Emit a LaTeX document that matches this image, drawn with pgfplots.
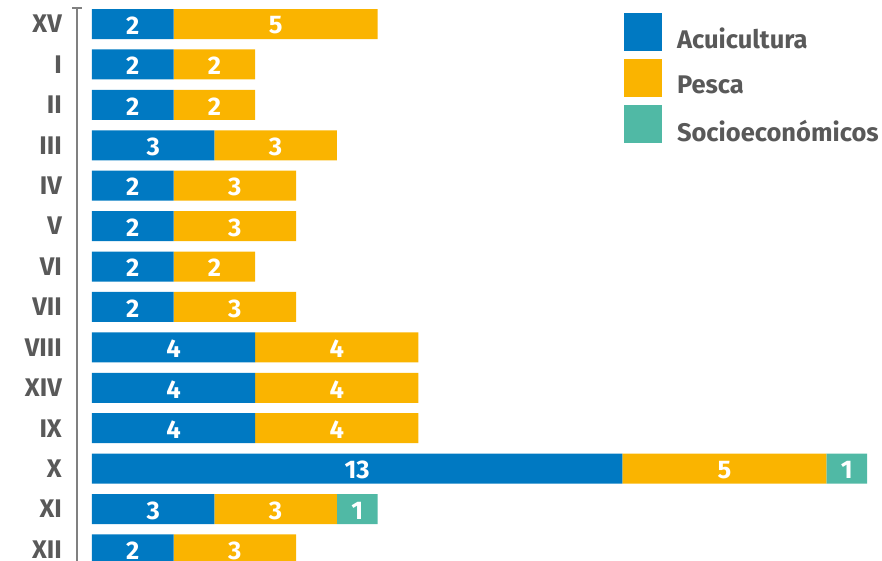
\documentclass[border=0pt]{standalone}
\usepackage{fontspec}
\setmainfont{Fira Sans}
\usepackage{pgfplots}
\pgfplotsset{compat=1.18}
\definecolor{cblue}{HTML}{0079C2}
\definecolor{corange}{HTML}{FAB400}
\definecolor{cteal}{HTML}{50B9A5}
\definecolor{ctext}{HTML}{595959}
\definecolor{caxis}{HTML}{808080}
\newcommand{\bigfont}{\fontsize{25.5}{28}\selectfont\bfseries}
\pgfplotsset{
  common/.style={
    at={(77pt,553pt)}, anchor=north west,
    scale only axis, width=805pt, height=553pt,
    xmin=-0.3676, xmax=19.363, ymin=-0.396, ymax=13.285,
    y dir=reverse,
  }
}
\begin{document}
\begin{tikzpicture}
\useasboundingbox (0,0) rectangle (882pt,561pt);
\begin{axis}[
  common, name=ax,
  xbar stacked, bar width=30pt,
  axis x line=none,
  axis y line*=left,
  axis line style={draw=caxis, line width=2pt},
  ytick={0,...,13},
  yticklabels={XV,I,II,III,IV,V,VI,VII,VIII,XIV,IX,X,XI,XII},
  major tick length=0pt,
  yticklabel style={font=\bigfont, text=ctext, inner sep=0pt, xshift=-15pt},
  legend image code/.code={\fill[#1] (0pt,-12.5pt) rectangle (38pt,25.5pt);},
  legend cell align=left,
  legend style={at={(0.6795,0.991)}, anchor=north west, draw=none, fill=none,
    inner sep=0pt, outer sep=0pt, row sep=8pt, column sep=15pt,
    font=\bigfont, text=ctext,
    nodes={inner sep=0pt, text depth=0pt}},
]
\addplot[fill=cblue, draw=none] coordinates {
 (2,0) (2,1) (2,2) (3,3) (2,4) (2,5) (2,6) (2,7) (4,8) (4,9) (4,10) (13,11) (3,12) (2,13)};
\addlegendentry{Acuicultura}
\addplot[fill=corange, draw=none] coordinates {
 (5,0) (2,1) (2,2) (3,3) (3,4) (3,5) (2,6) (3,7) (4,8) (4,9) (4,10) (5,11) (3,12) (3,13)};
\addlegendentry{Pesca}
\addplot[fill=cteal, draw=none] coordinates {
 (0,0) (0,1) (0,2) (0,3) (0,4) (0,5) (0,6) (0,7) (0,8) (0,9) (0,10) (1,11) (1,12) (0,13)};
\addlegendentry{Socioeconómicos}
\end{axis}
\begin{axis}[
  common, hide axis,
]
\addplot[draw=none, mark=none, nodes near coords, point meta=explicit symbolic,
  every node near coord/.append style={anchor=center, text=white, font=\bigfont, inner sep=0pt, yshift=-1.5pt}]
 coordinates {
 (1,0) [2] (4.5,0) [5]
 (1,1) [2] (3,1) [2]
 (1,2) [2] (3,2) [2]
 (1.5,3) [3] (4.5,3) [3]
 (1,4) [2] (3.5,4) [3]
 (1,5) [2] (3.5,5) [3]
 (1,6) [2] (3,6) [2]
 (1,7) [2] (3.5,7) [3]
 (2,8) [4] (6,8) [4]
 (2,9) [4] (6,9) [4]
 (2,10) [4] (6,10) [4]
 (6.5,11) [13] (15.5,11) [5] (18.5,11) [1]
 (1.5,12) [3] (4.5,12) [3] (6.5,12) [1]
 (1,13) [2] (3.5,13) [3]
 };
\end{axis}
\draw[caxis, line width=2pt] ([xshift=-5pt]ax.north west) -- ([xshift=5pt]ax.north west);
\end{tikzpicture}
\end{document}
